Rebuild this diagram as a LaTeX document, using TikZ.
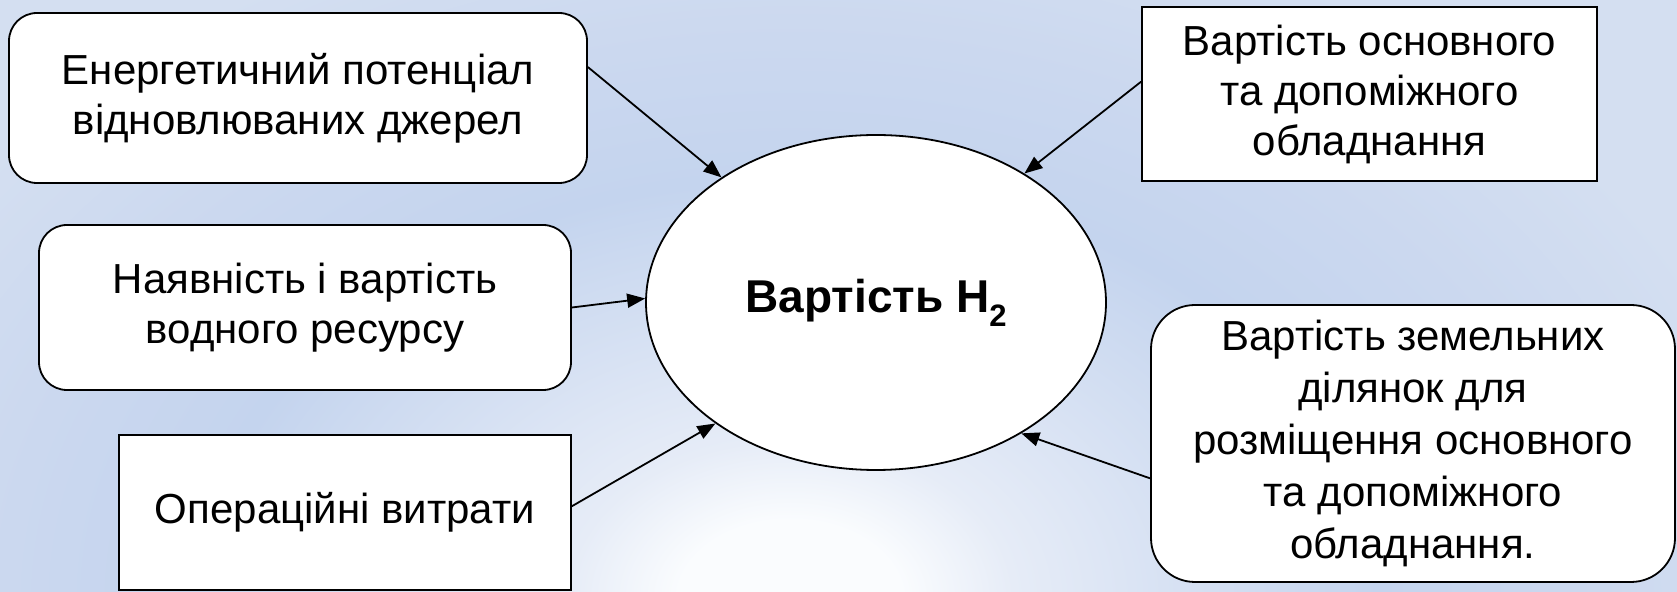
\documentclass[tikz,border=0pt]{standalone}
\usepackage{fontspec}
\setmainfont{Liberation Sans}
\usetikzlibrary{arrows.meta,calc,shapes.geometric}
\definecolor{bgW}{HTML}{FAFCFE}
\definecolor{bgL}{HTML}{E6ECF7}
\definecolor{bgD}{HTML}{C4D4EE}
\definecolor{bgM}{HTML}{CBD8EF}
\definecolor{bgE}{HTML}{D4DFF1}
\pgfdeclareradialshading{bgshade}{\pgfpoint{0pt}{0pt}}{color(0pt)=(bgW); color(40pt)=(bgW); color(80pt)=(bgL); color(210pt)=(bgD); color(280pt)=(bgM); color(360pt)=(bgE); color(450pt)=(bgE)}
\tikzset{
  box/.style={draw=black, line width=0.9pt, fill=white, rectangle, inner sep=0pt, align=center, font=\fontsize{21}{25}\selectfont},
  rbox/.style={box, rounded corners=14pt},
  arr/.style={draw=black, line width=0.9pt, -{Triangle[length=9pt,width=7pt]}}
}
\begin{document}
\begin{tikzpicture}[x=0.5pt,y=-0.5pt]
\useasboundingbox (0,0) rectangle (1677,592);
\begin{scope}
\clip (0,0) rectangle (1677,592);
\node[inner sep=0pt, outer sep=0pt, xscale=1.4, transform shape] (bg) at (790,600) {\pgfuseshading{bgshade}};
\end{scope}

\node[rbox, minimum width=289pt, minimum height=85pt] (b1) at (298,98) {Енергетичний потенціал\\відновлюваних джерел};
\node[rbox, minimum width=266pt, minimum height=82.5pt] (b2) at (305,307.5) {Наявність і вартість\\водного ресурсу};
\node[box, minimum width=226pt, minimum height=77.5pt] (b3) at (345,512.5) {Операційні витрати};
\node[box, minimum width=227.5pt, minimum height=87pt] (b4) at (1369.5,94) {Вартість основного\\та допоміжного\\обладнання};
\node[rbox, rounded corners=22pt, minimum width=262pt, minimum height=138.5pt, font=\fontsize{21}{26}\selectfont] (b5) at (1413,443.5) {Вартість земельних\\ділянок для\\розміщення основного\\та допоміжного\\обладнання.};

\node[ellipse, draw=black, line width=0.9pt, fill=white, minimum width=230pt, minimum height=167.5pt, inner sep=0pt] (e) at (876,302.5) {\bfseries\fontsize{23}{27}\selectfont Вартість H\raisebox{-7pt}{\fontsize{15.5}{16}\selectfont 2}};

\draw[arr] ($(b1.north east)!0.32!(b1.south east)$) -- (e.141);
\draw[arr] (b2.east) -- (e.179);
\draw[arr] ($(b3.north east)!0.46!(b3.south east)$) -- (e.217);
\draw[arr] ($(b4.north west)!0.43!(b4.south west)$) -- (e.41);
\draw[arr] ($(b5.north west)!0.625!(b5.south west)$) -- (e.318);
\end{tikzpicture}
\end{document}
